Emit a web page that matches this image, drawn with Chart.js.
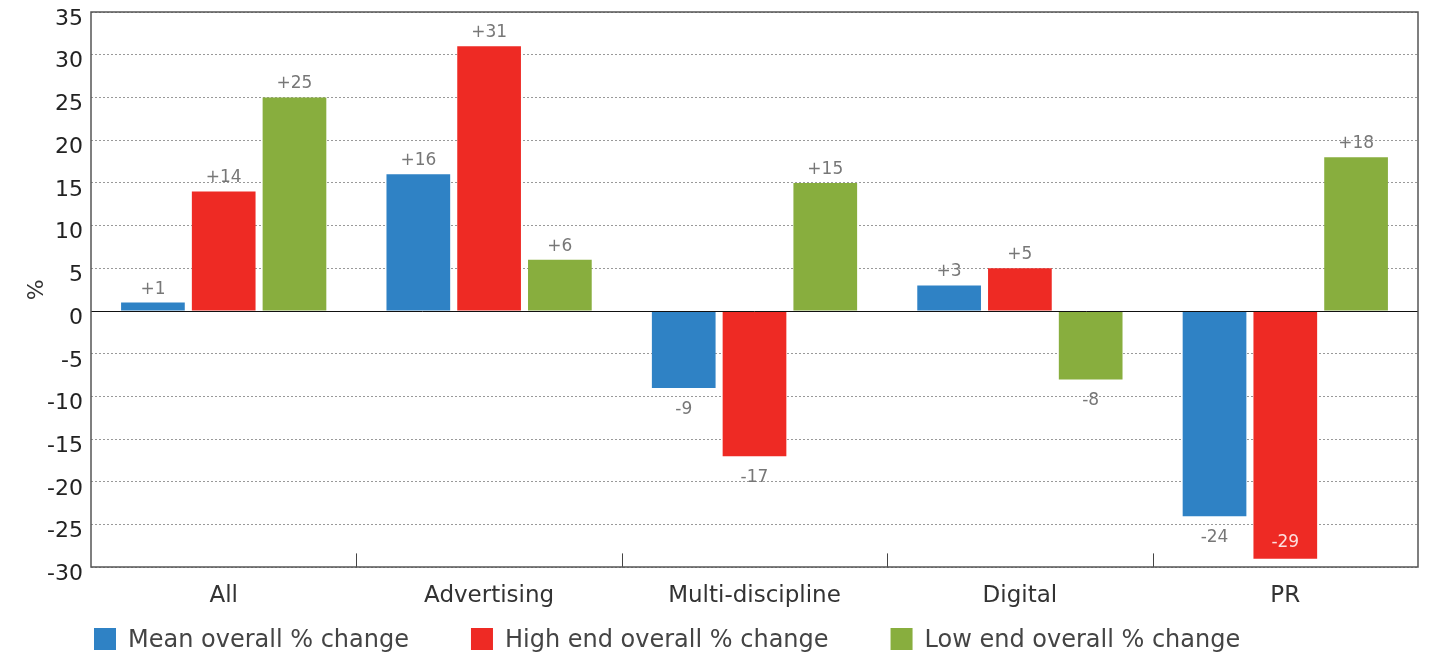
<!DOCTYPE html>
<html>
<head>
<meta charset="utf-8">
<script src="https://cdn.jsdelivr.net/npm/chart.js@4"></script>
<style>
  html, body { margin: 0; padding: 0; background: #ffffff; }
  #wrap { width: 1429px; height: 659px; }
</style>
</head>
<body>
<div id="wrap"><canvas id="c" width="1429" height="659"></canvas></div>
<script>
const categories = ['All', 'Advertising', 'Multi-discipline', 'Digital', 'PR'];
const meanChange = [1, 16, -9, 3, -24];
const highEndChange = [14, 31, -17, 5, -29];
const lowEndChange = [25, 6, 15, -8, 18];
const seriesNames = ['Mean overall % change', 'High end overall % change', 'Low end overall % change'];
const yMin = -30, yMax = 35, yStep = 5;

const FONT = '"DejaVu Sans", sans-serif';

const framePlugin = {
  id: 'frame',
  beforeDatasetsDraw(chart) {
    const {ctx, chartArea: a, scales: {x}} = chart;
    ctx.save();
    ctx.strokeStyle = '#444';
    ctx.lineWidth = 1;
    for (let i = 1; i < categories.length; i++) {
      const px = Math.round((x.getPixelForValue(i - 1) + x.getPixelForValue(i)) / 2) + 0.5;
      ctx.beginPath();
      ctx.moveTo(px, a.bottom);
      ctx.lineTo(px, a.bottom - 14);
      ctx.stroke();
    }
    ctx.restore();
  },
  afterDatasetsDraw(chart) {
    const {ctx, chartArea: a, scales: {y}} = chart;
    ctx.save();
    const zy = Math.round(y.getPixelForValue(0)) + 0.5;
    ctx.strokeStyle = '#111';
    ctx.lineWidth = 1;
    ctx.beginPath();
    ctx.moveTo(a.left, zy);
    ctx.lineTo(a.right, zy);
    ctx.stroke();
    ctx.strokeStyle = '#555';
    ctx.lineWidth = 1.5;
    ctx.strokeRect(Math.round(a.left), Math.round(a.top), Math.round(a.right - a.left), Math.round(a.bottom - a.top));

    ctx.font = '17px ' + FONT;
    ctx.textAlign = 'center';
    ctx.textBaseline = 'alphabetic';
    chart.data.datasets.forEach((ds, di) => {
      const meta = chart.getDatasetMeta(di);
      meta.data.forEach((bar, i) => {
        const v = ds.data[i];
        const txt = (v > 0 ? '+' : '') + v;
        if (v >= 0) {
          ctx.fillStyle = '#777';
          ctx.fillText(txt, bar.x, bar.y - 9);
        } else if (bar.y + 26 > a.bottom) {
          ctx.fillStyle = 'rgba(255,255,255,0.85)';
          ctx.fillText(txt, bar.x, bar.y - 12);
        } else {
          ctx.fillStyle = '#777';
          ctx.fillText(txt, bar.x, bar.y + 26);
        }
      });
    });

    ctx.font = '24px ' + FONT;
    ctx.textAlign = 'left';
    ctx.textBaseline = 'middle';
    let lx = a.left + 3;
    const ly = chart.height - 20;
    chart.data.datasets.forEach((ds) => {
      ctx.fillStyle = ds.backgroundColor;
      ctx.fillRect(lx, ly - 11, 22, 22);
      ctx.fillStyle = '#444';
      ctx.fillText(ds.label, lx + 34, ly + 2);
      lx += 34 + ctx.measureText(ds.label).width + 62;
    });
    ctx.restore();
  }
};

new Chart(document.getElementById('c'), {
  type: 'bar',
  data: {
    labels: categories,
    datasets: [
      { label: seriesNames[0], data: meanChange, backgroundColor: '#2F82C5' },
      { label: seriesNames[1], data: highEndChange, backgroundColor: '#EE2A24' },
      { label: seriesNames[2], data: lowEndChange, backgroundColor: '#88AE3E' }
    ]
  },
  options: {
    responsive: false,
    animation: false,
    devicePixelRatio: 1,
    layout: { padding: { left: 18, right: 11, top: 12, bottom: 42 } },
    datasets: { bar: { categoryPercentage: 0.8, barPercentage: 0.9 } },
    plugins: {
      legend: { display: false },
      tooltip: { enabled: false }
    },
    scales: {
      x: {
        grid: { display: false },
        border: { display: false },
        ticks: { color: '#333', font: { family: FONT, size: 23 }, padding: 7 }
      },
      y: {
        min: yMin,
        max: yMax,
        afterFit(scale) { scale.width = 73; scale.paddingTop = 0; scale.paddingBottom = 0; },
        ticks: { stepSize: yStep, color: '#222', font: { family: FONT, size: 22 }, padding: 8, labelOffset: 7 },
        grid: { color: '#999', lineWidth: 1, drawTicks: false },
        border: { display: false, dash: [2, 2] },
        title: { display: true, text: '%', color: '#333', font: { family: FONT, size: 22 }, padding: { top: 6, bottom: 0 } }
      }
    }
  },
  plugins: [framePlugin]
});
</script>
</body>
</html>
